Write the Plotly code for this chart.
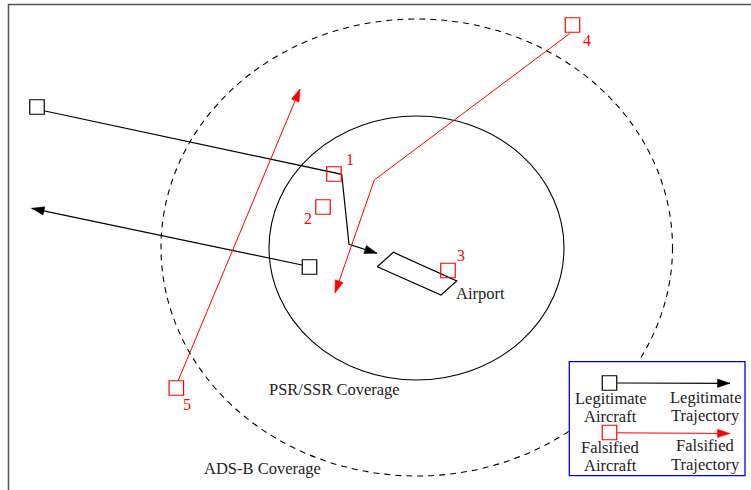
import math
import plotly.graph_objects as go

# ---- diagram data (pixel-like coordinates, y grows downward) ----
legit_ac_x = [37, 309.5]
legit_ac_y = [107, 267]

fals_ac_x = [334, 323, 448, 572.5, 176.3]
fals_ac_y = [174, 207, 270.5, 25, 388]
fals_labels = ["1", "2", "3", "4", "5"]
fals_label_x = [350, 308, 461, 587, 187]
fals_label_y = [161, 220, 257, 42, 406]

legit_traj1_x = [45, 341.7, 349, 377]
legit_traj1_y = [111, 174.3, 244.3, 253.3]
legit_traj2_x = [302, 31.7]
legit_traj2_y = [265, 208.3]

fals_traj4_x = [570, 374.3, 335]
fals_traj4_y = [33.3, 180, 293]
fals_traj5_x = [178, 300]
fals_traj5_y = [381, 89]

airport_x = [377.3, 393.3, 456.7, 441, 377.3]
airport_y = [266.7, 252.3, 281, 295, 266.7]

adsb_ellipse = [161, 19, 672.5, 476]      # x0, y0, x1, y1
psr_ellipse = [269, 116, 564, 380]

legend_box = [569.3, 361.7, 745, 475.7]
legend_ac_x = [609.5, 609.5]
legend_ac_y = [383, 432.5]
legend_arrow_x = [[617.3, 730], [617.3, 730]]
legend_arrow_y = [[383, 383.3], [432.8, 433.5]]

text_labels = ["Airport", "PSR/SSR Coverage", "ADS-B Coverage",
               "Legitimate", "Aircraft", "Legitimate", "Trajectory",
               "Falsified", "Aircraft", "Falsified", "Trajectory"]
text_x = [454, 267, 202, 610, 610, 705, 705, 610, 610, 705, 705]
text_y = [293, 389, 468, 398, 416, 397, 415.5, 447.5, 465, 445.5, 464]
text_anchor = ["left", "left", "left"] + ["center"] * 8

FONT = "Liberation Serif"
TXT = "#222222"

fig = go.Figure()

# frame and coverage ellipses
fig.add_shape(type="rect", x0=8.5, y0=4.5, x1=800, y1=520,
              line=dict(color="#555555", width=1.5), layer="below")
fig.add_shape(type="circle", x0=adsb_ellipse[0], y0=adsb_ellipse[1],
              x1=adsb_ellipse[2], y1=adsb_ellipse[3],
              line=dict(color="black", width=1.1, dash="6px,5px"), layer="below")
fig.add_shape(type="circle", x0=psr_ellipse[0], y0=psr_ellipse[1],
              x1=psr_ellipse[2], y1=psr_ellipse[3],
              line=dict(color="black", width=1.1), layer="below")
fig.add_shape(type="rect", x0=legend_box[0], y0=legend_box[1],
              x1=legend_box[2], y1=legend_box[3],
              line=dict(color="#0000ff", width=1.3), fillcolor="white", layer="below")


def add_arrow(xs, ys, color, width, L=12.5, hw=4.2):
    fig.add_trace(go.Scatter(x=xs, y=ys, mode="lines",
                             line=dict(color=color, width=width),
                             hoverinfo="skip", showlegend=False))
    tx, ty = xs[-1], ys[-1]
    px, py = xs[-2], ys[-2]
    d = math.hypot(tx - px, ty - py)
    ux, uy = (tx - px) / d, (ty - py) / d
    bx, by = tx - L * ux, ty - L * uy
    nx, ny = -uy, ux
    fig.add_trace(go.Scatter(
        x=[tx, bx + hw * nx, bx - hw * nx, tx],
        y=[ty, by + hw * ny, by - hw * ny, ty],
        mode="lines", fill="toself", fillcolor=color,
        line=dict(color=color, width=0.5),
        hoverinfo="skip", showlegend=False))


add_arrow(legit_traj1_x, legit_traj1_y, "black", 1.2)
add_arrow(legit_traj2_x, legit_traj2_y, "black", 1.2)
add_arrow(fals_traj4_x, fals_traj4_y, "#ff0000", 1.0)
add_arrow(fals_traj5_x, fals_traj5_y, "#ff0000", 1.0)
add_arrow(legend_arrow_x[0], legend_arrow_y[0], "black", 1.2)
add_arrow(legend_arrow_x[1], legend_arrow_y[1], "#ff0000", 1.0)

# airport
fig.add_trace(go.Scatter(x=airport_x, y=airport_y, mode="lines",
                         line=dict(color="black", width=1.2),
                         hoverinfo="skip", showlegend=False))

# aircraft
fig.add_trace(go.Scatter(x=legit_ac_x + [legend_ac_x[0]], y=legit_ac_y + [legend_ac_y[0]],
                         mode="markers",
                         marker=dict(symbol="square", size=14.5, color="white",
                                     line=dict(color="black", width=1.2)),
                         hoverinfo="skip", showlegend=False))
fig.add_trace(go.Scatter(x=fals_ac_x + [legend_ac_x[1]], y=fals_ac_y + [legend_ac_y[1]],
                         mode="markers",
                         marker=dict(symbol="square-open", size=14.5, color="#ff0000",
                                     line=dict(color="#ff0000", width=1.2)),
                         hoverinfo="skip", showlegend=False))
fig.add_trace(go.Scatter(x=fals_label_x, y=fals_label_y, mode="text",
                         text=fals_labels,
                         textfont=dict(family=FONT, size=16, color="#ff0000"),
                         hoverinfo="skip", showlegend=False))

# text labels
for t, x, y, anchor in zip(text_labels, text_x, text_y, text_anchor):
    fig.add_annotation(x=x, y=y, text=t, showarrow=False, xanchor=anchor,
                       yanchor="middle", align="center",
                       font=dict(family=FONT, size=16.5, color=TXT))

fig.update_xaxes(range=[0, 751], visible=False, showgrid=False, zeroline=False)
fig.update_yaxes(range=[490, 0], visible=False, showgrid=False, zeroline=False)
fig.update_layout(width=751, height=490, margin=dict(l=0, r=0, t=0, b=0),
                  paper_bgcolor="white", plot_bgcolor="white")

fig.write_html("out.html", config={"displayModeBar": False},
               post_script="document.body.style.margin='0';")
